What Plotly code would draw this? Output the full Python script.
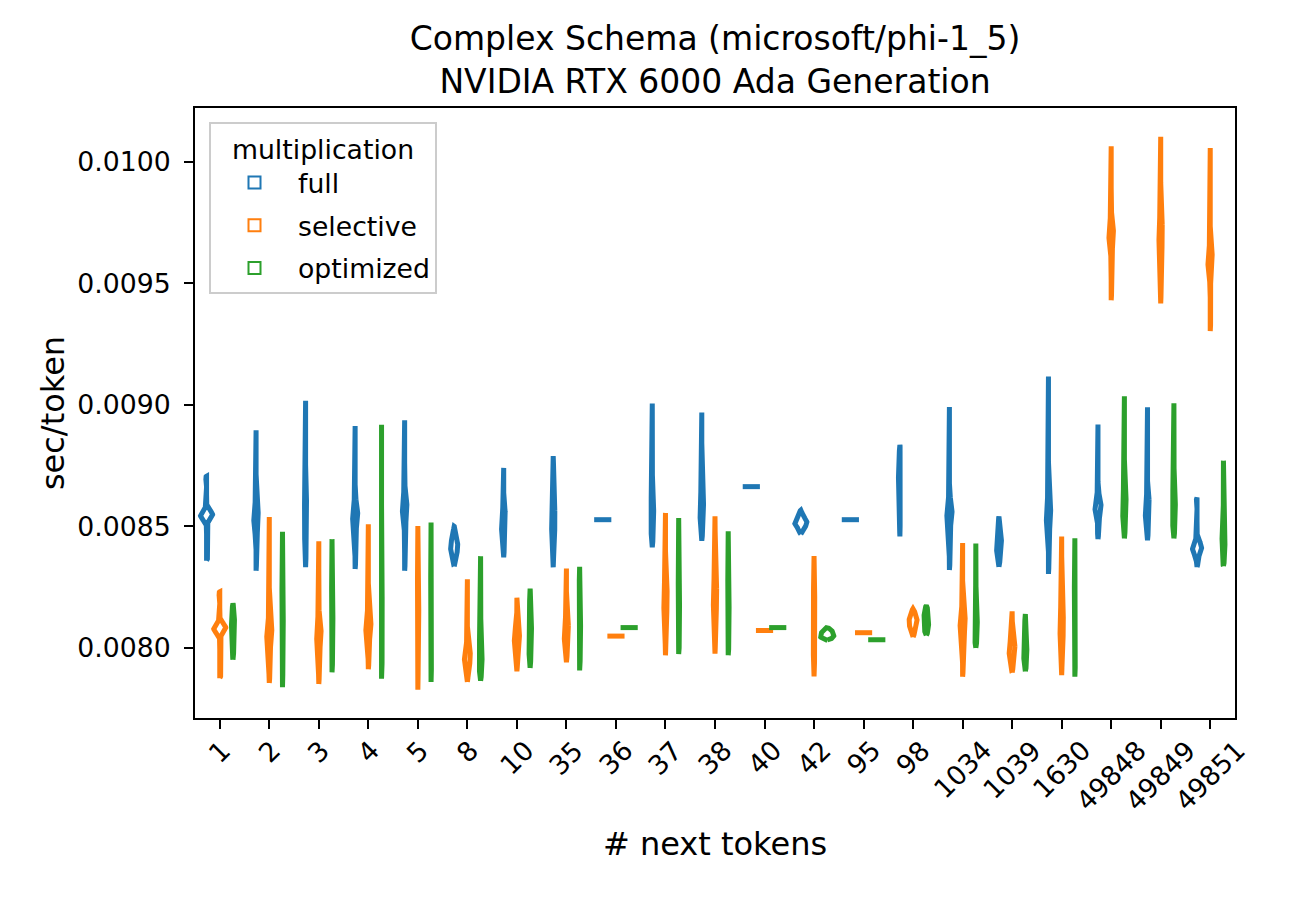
import numpy as np
import plotly.graph_objects as go

categories = ["1", "2", "3", "4", "5", "8", "10", "35", "36", "37", "38", "40",
              "42", "95", "98", "1034", "1039", "1630", "49848", "49849", "49851"]
hues = ["full", "selective", "optimized"]
colors = ["#1f77b4", "#ff7f0e", "#2ca02c"]
y_ticks = [0.0080, 0.0085, 0.0090, 0.0095, 0.0100]

full = [
    [0.008359, 0.008529, 0.008535, 0.008541, 0.008547, 0.008553, 0.008559, 0.008565, 0.008707],
    [0.008318, 0.008485, 0.008501, 0.008517, 0.008533, 0.008549, 0.008565, 0.008581, 0.008896],
    [0.008333, 0.008449, 0.008475, 0.008501, 0.008527, 0.008553, 0.008579, 0.008605, 0.009017],
    [0.008325, 0.008505, 0.008519, 0.008533, 0.008547, 0.008561, 0.008575, 0.008589, 0.008913],
    [0.008318, 0.008527, 0.008543, 0.008559, 0.008575, 0.008591, 0.008607, 0.008623, 0.008937],
    [0.008336, 0.008387, 0.008397, 0.008407, 0.008417, 0.008427, 0.008437, 0.008447, 0.008501],
    [0.008373, 0.008462, 0.008478, 0.008494, 0.008510, 0.008526, 0.008542, 0.008558, 0.008741],
    [0.008332, 0.008467, 0.008487, 0.008507, 0.008527, 0.008547, 0.008567, 0.008587, 0.008790],
    [0.008528],
    [0.008414, 0.008473, 0.008499, 0.008525, 0.008551, 0.008577, 0.008603, 0.008629, 0.009006],
    [0.008441, 0.008508, 0.008528, 0.008548, 0.008568, 0.008588, 0.008608, 0.008628, 0.008969],
    [0.008664],
    [0.008469, 0.008498, 0.008504, 0.008510, 0.008516, 0.008522, 0.008528, 0.008534, 0.008567],
    [0.008528],
    [0.008459, 0.008617, 0.008643, 0.008669, 0.008695, 0.008721, 0.008747, 0.008773, 0.008836],
    [0.008321, 0.008515, 0.008529, 0.008543, 0.008557, 0.008571, 0.008585, 0.008599, 0.008992],
    [0.008334, 0.008385, 0.008399, 0.008413, 0.008427, 0.008441, 0.008455, 0.008469, 0.008541],
    [0.008305, 0.008501, 0.008517, 0.008533, 0.008549, 0.008565, 0.008581, 0.008597, 0.009117],
    [0.008448, 0.008545, 0.008557, 0.008569, 0.008581, 0.008593, 0.008605, 0.008617, 0.008920],
    [0.008443, 0.008517, 0.008533, 0.008549, 0.008565, 0.008581, 0.008597, 0.008613, 0.008991],
    [0.008333, 0.008387, 0.008395, 0.008403, 0.008411, 0.008419, 0.008427, 0.008435, 0.008619],
]

selective = [
    [0.007876, 0.008063, 0.008069, 0.008075, 0.008081, 0.008087, 0.008093, 0.008099, 0.008231],
    [0.007856, 0.008018, 0.008032, 0.008046, 0.008060, 0.008074, 0.008088, 0.008102, 0.008539],
    [0.007852, 0.008012, 0.008028, 0.008044, 0.008060, 0.008076, 0.008092, 0.008108, 0.008439],
    [0.007913, 0.008048, 0.008062, 0.008076, 0.008090, 0.008104, 0.008118, 0.008132, 0.008509],
    [0.007828, 0.008000, 0.008040, 0.008080, 0.008120, 0.008160, 0.008200, 0.008240, 0.008502],
    [0.007860, 0.007928, 0.007940, 0.007952, 0.007964, 0.007976, 0.007988, 0.008000, 0.008283],
    [0.007904, 0.007998, 0.008012, 0.008026, 0.008040, 0.008054, 0.008068, 0.008082, 0.008207],
    [0.007941, 0.008012, 0.008028, 0.008044, 0.008060, 0.008076, 0.008092, 0.008108, 0.008327],
    [0.008049],
    [0.007970, 0.008140, 0.008160, 0.008180, 0.008200, 0.008220, 0.008240, 0.008260, 0.008556],
    [0.007977, 0.008150, 0.008170, 0.008190, 0.008210, 0.008230, 0.008250, 0.008270, 0.008542],
    [0.008072],
    [0.007883, 0.007980, 0.008020, 0.008060, 0.008100, 0.008140, 0.008180, 0.008220, 0.008378],
    [0.008063],
    [0.008045, 0.008080, 0.008089, 0.008098, 0.008107, 0.008116, 0.008125, 0.008134, 0.008162],
    [0.007882, 0.008065, 0.008079, 0.008093, 0.008107, 0.008121, 0.008135, 0.008149, 0.008432],
    [0.007899, 0.007952, 0.007964, 0.007976, 0.007988, 0.008000, 0.008012, 0.008024, 0.008151],
    [0.007888, 0.008034, 0.008054, 0.008074, 0.008094, 0.008114, 0.008134, 0.008154, 0.008459],
    [0.009431, 0.009654, 0.009670, 0.009686, 0.009702, 0.009718, 0.009734, 0.009750, 0.010065],
    [0.009418, 0.009640, 0.009660, 0.009680, 0.009700, 0.009720, 0.009740, 0.009760, 0.010104],
    [0.009304, 0.009540, 0.009556, 0.009572, 0.009588, 0.009604, 0.009620, 0.009636, 0.010057],
]

optimized = [
    [0.007952, 0.008007, 0.008033, 0.008059, 0.008085, 0.008111, 0.008137, 0.008163, 0.008183],
    [0.007839, 0.007950, 0.008000, 0.008050, 0.008100, 0.008150, 0.008200, 0.008250, 0.008478],
    [0.007900, 0.007960, 0.008000, 0.008040, 0.008080, 0.008120, 0.008160, 0.008200, 0.008448],
    [0.007874, 0.007970, 0.008010, 0.008050, 0.008090, 0.008130, 0.008170, 0.008210, 0.008919],
    [0.007860, 0.007995, 0.008035, 0.008075, 0.008115, 0.008155, 0.008195, 0.008235, 0.008516],
    [0.007865, 0.007892, 0.007918, 0.007944, 0.007970, 0.007996, 0.008022, 0.008048, 0.008378],
    [0.007918, 0.007982, 0.008008, 0.008034, 0.008060, 0.008086, 0.008112, 0.008138, 0.008244],
    [0.007908, 0.007960, 0.008000, 0.008040, 0.008080, 0.008120, 0.008160, 0.008200, 0.008334],
    [0.008084],
    [0.007975, 0.007995, 0.008035, 0.008075, 0.008115, 0.008155, 0.008195, 0.008235, 0.008535],
    [0.007970, 0.007995, 0.008035, 0.008075, 0.008115, 0.008155, 0.008195, 0.008235, 0.008480],
    [0.008084],
    [0.008033, 0.008035, 0.008041, 0.008047, 0.008053, 0.008059, 0.008065, 0.008071, 0.008085],
    [0.008034],
    [0.008052, 0.008056, 0.008074, 0.008092, 0.008110, 0.008128, 0.008146, 0.008164, 0.008175],
    [0.008001, 0.008022, 0.008048, 0.008074, 0.008100, 0.008126, 0.008152, 0.008178, 0.008430],
    [0.007904, 0.007912, 0.007938, 0.007964, 0.007990, 0.008016, 0.008042, 0.008068, 0.008140],
    [0.007882, 0.007950, 0.008000, 0.008050, 0.008100, 0.008150, 0.008200, 0.008250, 0.008452],
    [0.008451, 0.008520, 0.008540, 0.008560, 0.008580, 0.008600, 0.008620, 0.008640, 0.009036],
    [0.008451, 0.008502, 0.008528, 0.008554, 0.008580, 0.008606, 0.008632, 0.008658, 0.009007],
    [0.008337, 0.008349, 0.008375, 0.008401, 0.008427, 0.008453, 0.008479, 0.008505, 0.008771],
]

series = [full, selective, optimized]

# ---- violin geometry (seaborn-like: dodge width 0.8, area-normalised KDE) ----
slot = 0.8 / len(hues)
offsets = [(j - (len(hues) - 1) / 2) * slot for j in range(len(hues))]


def kde(vals):
    v = np.asarray(vals, float)
    n = v.size
    q1, q3 = np.percentile(v, [25, 75])
    sig = min(v.std(ddof=1), (q3 - q1) / 1.349)
    bw = 1.06 * sig * n ** -0.2
    grid = np.linspace(v.min(), v.max(), 500)
    z = (grid[:, None] - v[None, :]) / bw
    dens = np.exp(-0.5 * z * z).sum(1) / (n * bw * np.sqrt(2 * np.pi))
    # rounded tips: taper the outline to the centre line within one bandwidth of the ends
    taper = np.clip(np.minimum(grid - grid[0], grid[-1] - grid) / bw, 0, 1) ** 0.5
    return grid, dens * taper


kdes = {}
maxd = 0.0
for j, s in enumerate(series):
    for i, vals in enumerate(s):
        if len(set(vals)) > 1:
            g, d = kde(vals)
            kdes[(j, i)] = (g, d)
            maxd = max(maxd, d.max())
scale = (slot / 2) / maxd

fig = go.Figure()
for j, (name, s) in enumerate(zip(hues, series)):
    xs, ys = [], []
    for i, vals in enumerate(s):
        pos = i + offsets[j]
        if (j, i) in kdes:
            g, d = kdes[(j, i)]
            hw = d * scale
            xs += list(pos + hw) + list((pos - hw)[::-1]) + [pos + hw[0], None]
            ys += list(g) + list(g[::-1]) + [g[0], None]
        else:
            half = slot / 2 * 1.3
            xs += [pos - half, pos + half, None]
            ys += [vals[0], vals[0], None]
    fig.add_trace(go.Scatter(x=xs, y=ys, mode="lines", name=name,
                             line=dict(color=colors[j], width=5),
                             showlegend=False, legendgroup=name, hoverinfo="skip"))
    fig.add_trace(go.Bar(x=[None], y=[None], name=name, legendgroup=name,
                         marker=dict(color="rgba(0,0,0,0)",
                                     line=dict(color=colors[j], width=2)),
                         showlegend=True))

annotations = []
for i, lab in enumerate(categories):
    annotations.append(dict(x=i, xref="x", y=0, yref="paper", text=lab,
                            showarrow=False, textangle=-45, xanchor="center",
                            yanchor="top", yshift=-14, font=dict(size=26.7)))

W, H = 1292, 892
fig.update_layout(
    width=W, height=H,
    margin=dict(l=187, r=65, t=100, b=182, autoexpand=False),
    paper_bgcolor="white", plot_bgcolor="white",
    font=dict(family="DejaVu Sans", size=26.7, color="black"),
    title=dict(text="Complex Schema (microsoft/phi-1_5)<br>NVIDIA RTX 6000 Ada Generation",
               x=0.5, xref="paper", xanchor="center", y=1 - 42 / H, yref="container",
               yanchor="middle", font=dict(size=33)),
    showlegend=True,
    legend=dict(x=14 / 1040, y=1 - 14 / 610, xanchor="left", yanchor="top",
                bgcolor="rgba(255,255,255,0.85)", bordercolor="#cccccc", borderwidth=2,
                font=dict(size=26.7),
                title=dict(text="multiplication", side="top center", font=dict(size=26.7)),
                itemwidth=77, traceorder="grouped", tracegroupgap=5),
    annotations=annotations,
)
fig.update_xaxes(range=[-0.5, len(categories) - 0.5], tickvals=list(range(len(categories))),
                 showticklabels=False, ticks="outside", ticklen=9, tickwidth=2,
                 tickcolor="black", showline=True, linecolor="black", linewidth=2,
                 mirror=True, showgrid=False, zeroline=False,
                 title=dict(text="# next tokens", standoff=105))
fig.update_yaxes(range=[0.007712, 0.010222], tickvals=y_ticks, tickformat=".4f",
                 ticks="outside", ticklen=9, tickwidth=2, tickcolor="black",
                 showline=True, linecolor="black", linewidth=2, mirror=True,
                 showgrid=False, zeroline=False, ticklabelstandoff=8,
                 title=dict(text="sec/token", standoff=3))

fig.write_html("out.html")
